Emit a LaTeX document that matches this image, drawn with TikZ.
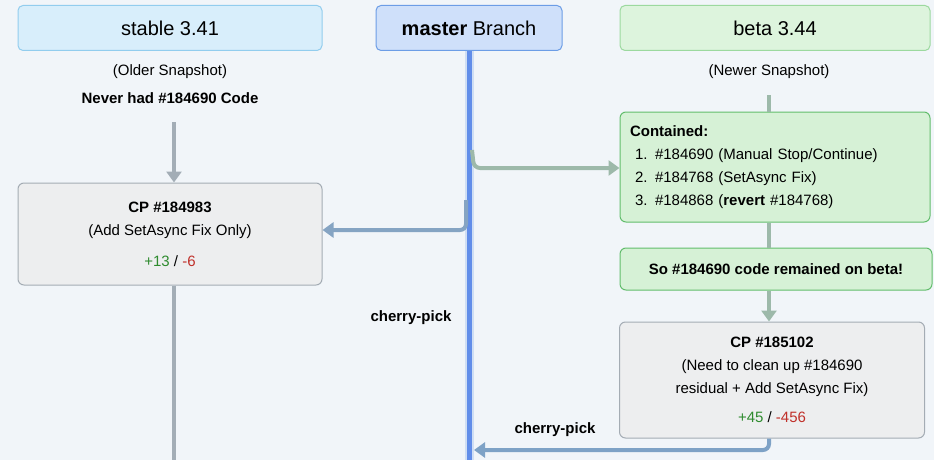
\documentclass[tikz,border=0pt]{standalone}
\usepackage{fontspec}
\setmainfont{Liberation Sans}
\usetikzlibrary{positioning, arrows.meta}
\definecolor{bgcol}{HTML}{F1F5F9}
\definecolor{stablefill}{HTML}{D8EEFB}
\definecolor{stableline}{HTML}{92CDEE}
\definecolor{masterfill}{HTML}{CFE0FA}
\definecolor{masterline}{HTML}{6C9DE6}
\definecolor{betafill}{HTML}{DDF4DD}
\definecolor{betaline}{HTML}{9CD99F}
\definecolor{cpfill}{HTML}{EDEEEF}
\definecolor{cpline}{HTML}{A4ACB4}
\definecolor{greenfill}{HTML}{D6F1D6}
\definecolor{greenline}{HTML}{62BD6C}
\definecolor{grayconn}{HTML}{A3ADB6}
\definecolor{greenconn}{HTML}{9DB9AA}
\definecolor{pickconn}{HTML}{7EA2C6}
\definecolor{plus}{HTML}{2E8B2E}
\definecolor{minus}{HTML}{C0302A}
\tikzset{
  header/.style={draw, rounded corners=5pt, line width=1pt, minimum height=45pt,
    font=\fontsize{20}{24}\selectfont, inner sep=0pt},
  cpbox/.style={draw=cpline, fill=cpfill, rounded corners=6pt, line width=1pt,
    align=center, font=\fontsize{15}{23}\selectfont, inner sep=0pt},
  greenbox/.style={draw=greenline, fill=greenfill, rounded corners=6pt, line width=1pt,
    font=\fontsize{15}{23}\selectfont, inner sep=0pt},
  note/.style={font=\fontsize{15}{18}\selectfont},
  conn/.style={line width=4pt, -{Triangle[length=11pt,width=15pt]}},
}
\begin{document}
\begin{tikzpicture}[x=1pt, y=-1pt]
  \fill[bgcol] (0,0) rectangle (934,460);
  \useasboundingbox (0,0) rectangle (934,460);
  % headers
  \node[header, draw=stableline, fill=stablefill, minimum width=304pt] (stable) at (170,28) {stable 3.41};
  \node[header, draw=masterline, fill=masterfill, minimum width=186pt] (master) at (469,28) {\textbf{master} Branch};
  \node[header, draw=betaline, fill=betafill, minimum width=310pt] (beta) at (775,28) {beta 3.44};
  \coordinate (mbot) at (469,460);
  \draw[masterline, line width=9pt, opacity=.25] (master.south) -- (mbot);
  \draw[masterline!90!blue, line width=5pt] (master.south) -- (mbot);
  % stable side
  \node[note] (older) at (170,72) {(Older Snapshot)};
  \node[note, font=\fontsize{15}{18}\bfseries] (never) at (170,98) {Never had \#184690 Code};
  \node[cpbox, minimum width=304pt, minimum height=102pt] (cpstable) at (170,234)
    {\textbf{CP \#184983}\\(Add SetAsync Fix Only)\\[8pt]\textcolor{plus}{+13} / \textcolor{minus}{-6}};
  \coordinate (stop) at (174,122);
  \coordinate (sbot) at (174,460);
  \draw[conn, grayconn] (stop) -- (stop |- cpstable.north);
  \draw[grayconn, line width=4pt] (cpstable.south -| sbot) -- (sbot);
  \coordinate (pickl) at (466,200);
  \draw[conn, pickconn!80!grayconn, rounded corners=6pt] (pickl) -- (466,230) -- (cpstable.east |- 0,230);
  \node[note, font=\fontsize{15}{18}\bfseries] (pickone) at (411,318) {cherry-pick};
  % beta side
  \node[note] (newer) at (769,72) {(Newer Snapshot)};
  \node[greenbox, minimum width=310pt, minimum height=110pt, align=left, text width=290pt] (contained) at (775,167)
    {\textbf{Contained:}\\
     \ 1. \#184690 (Manual Stop/Continue)\\
     \ 2. \#184768 (SetAsync Fix)\\
     \ 3. \#184868 (\textbf{revert} \#184768)};
  \node[greenbox, minimum width=312pt, minimum height=42pt, font=\fontsize{15}{18}\bfseries] (remained) at (776,269)
    {So \#184690 code remained on beta!};
  \node[cpbox, minimum width=305pt, minimum height=116pt] (cpbeta) at (772,380)
    {\textbf{CP \#185102}\\(Need to clean up \#184690\\residual + Add SetAsync Fix)\\[6pt]\textcolor{plus}{+45} / \textcolor{minus}{-456}};
  \coordinate (btop) at (769,95);
  \draw[greenconn, line width=4pt] (btop) -- (btop |- contained.north);
  \draw[greenconn, line width=4pt] (contained.south -| btop) -- (remained.north -| btop);
  \draw[conn, greenconn] (remained.south -| btop) -- (cpbeta.north -| btop);
  \coordinate (pickr) at (472,150);
  \draw[conn, greenconn, rounded corners=6pt] (pickr) -- (474,168) -- (contained.west |- 0,168);
  \coordinate (mright) at (474,450);
  \draw[conn, pickconn, rounded corners=6pt] (cpbeta.south -| btop) -- (769,450) -- (mright);
  \node[note, font=\fontsize{15}{18}\bfseries] (picktwo) at (555,430) {cherry-pick};
\end{tikzpicture}
\end{document}
